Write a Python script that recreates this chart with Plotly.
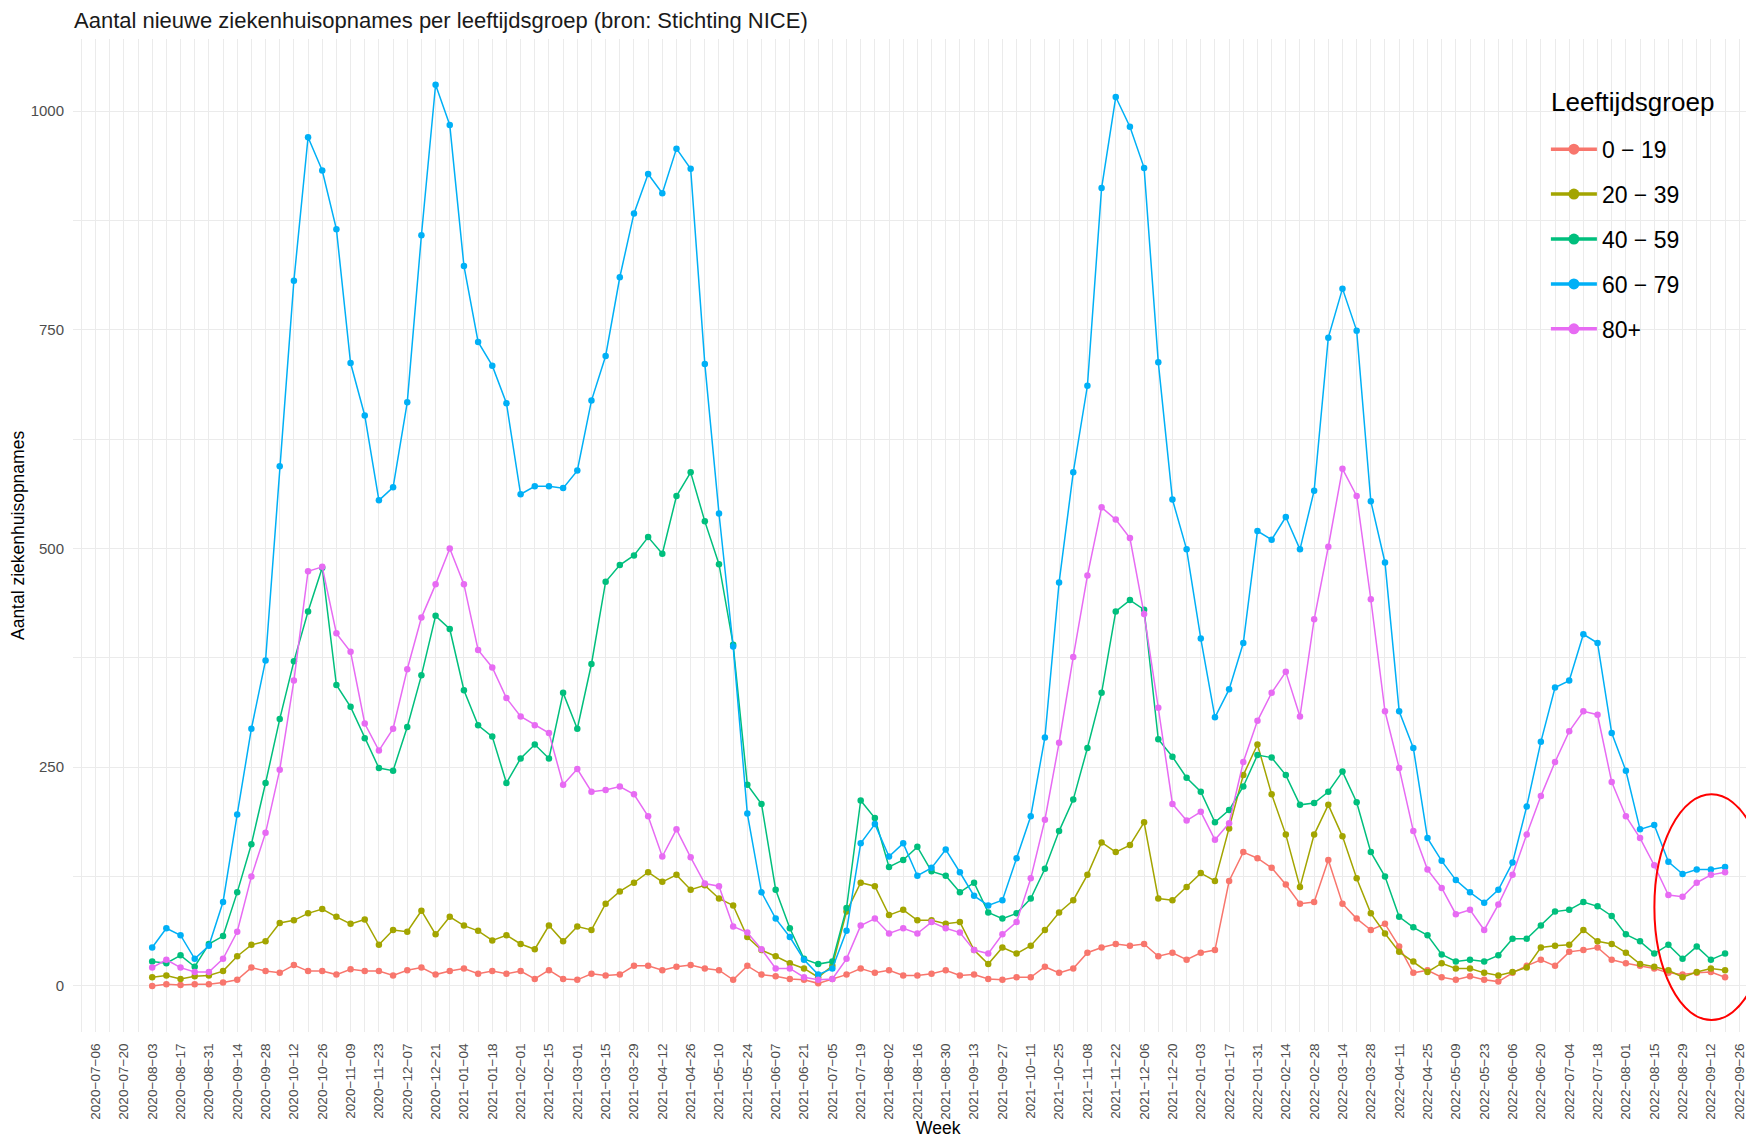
import pandas as pd
import plotly.graph_objects as go

# weekly data, first week 2020-08-03, last week 2022-09-19
weeks = pd.date_range("2020-08-03", periods=112, freq="7D")

groups = ["0 − 19", "20 − 39", "40 − 59", "60 − 79", "80+"]
colors = ["#F8766D", "#A3A500", "#00BF7D", "#00B0F6", "#E76BF3"]

age_0_19 = [
    0, 2, 1, 2, 2, 4, 7, 21, 17, 15, 24, 17, 17, 13, 19, 17, 17, 12, 18, 21, 13, 17, 20, 14, 17, 14, 17, 8, 18,
    8, 7, 14, 12, 13, 23, 23, 18, 22, 24, 20, 18, 7, 23, 13, 11, 8,
    7, 3, 8, 13, 20, 15, 18, 12, 12, 14, 18, 12, 13, 8, 7, 10, 10, 22, 15, 20, 38, 44,
    48, 46, 48, 34, 38, 30, 38, 41, 120, 153, 146, 135, 116, 94, 96, 144, 94, 77, 64, 71, 45, 15,
    18, 10, 7, 11, 7, 5, 15, 23, 30, 23, 39, 41, 44, 30, 26, 23, 20, 15, 13, 15, 16, 10,
]
age_20_39 = [
    10, 12, 8, 11, 12, 17, 34, 47, 51, 72, 75, 83, 88, 79, 71, 76, 47, 64, 62, 86, 59, 79, 69, 63, 52, 58, 48, 42, 69,
    51, 68, 64, 94, 108, 118, 130, 119, 127, 110, 115, 100, 92, 56, 41, 34, 26,
    20, 10, 23, 85, 118, 114, 81, 87, 75, 75, 71, 73, 41, 25, 44, 37, 46, 64, 84, 98, 127, 164,
    153, 161, 187, 100, 98, 113, 129, 120, 180, 241, 276, 219, 173, 113, 173, 207, 171, 123, 83, 60, 39, 28,
    16, 26, 20, 20, 15, 12, 16, 21, 44, 46, 47, 64, 51, 48, 38, 25, 22, 18, 10, 16, 20, 18,
]
age_40_59 = [
    28, 26, 35, 22, 48, 57, 107, 162, 232, 305, 371, 428, 478, 344, 319, 283, 249, 246, 296, 355, 423, 408, 338,
    298, 285, 232, 260, 276, 260, 335, 294, 368, 462, 481, 492, 513, 494, 560, 587, 531, 482, 390, 230, 208, 110, 66,
    31, 25, 28, 89, 212, 192, 136, 144, 159, 131, 126, 107, 118, 84, 77, 83, 100, 134, 177, 213, 272, 335,
    428, 441, 430, 282, 262, 238, 222, 187, 201, 228, 264, 261, 241, 207, 209, 222, 245, 210, 153, 125, 79, 67,
    58, 36, 28, 30, 28, 35, 54, 54, 69, 85, 87, 96, 91, 80, 59, 51, 37, 47, 31, 45, 30, 37,
]
age_60_79 = [
    44, 66, 58, 31, 46, 96, 196, 294, 372, 594, 806, 970, 932, 865, 712, 652, 555, 570, 667, 858, 1030, 984, 823,
    736, 709, 666, 562, 571, 571, 569, 589, 669, 720, 810, 883, 928, 906, 957, 934, 711, 540, 388, 197, 107, 77, 56,
    30, 13, 20, 63, 163, 185, 148, 163, 126, 135, 156, 130, 103, 92, 98, 146, 194, 284, 461, 587, 686, 912,
    1016, 982, 935, 713, 556, 499, 397, 307, 339, 392, 520, 510, 536, 499, 566, 741, 797, 749, 554, 484, 314, 272,
    169, 143, 121, 107, 95, 110, 141, 205, 279, 341, 349, 402, 392, 289, 246, 179, 184, 142, 128, 133, 133, 136,
]
age_80_plus = [
    21, 30, 21, 16, 16, 31, 62, 125, 175, 247, 349, 474, 479, 403, 382, 300, 269, 294, 362, 421, 459, 500, 459,
    384, 364, 329, 308, 298, 289, 230, 248, 222, 224, 228, 219, 194, 148, 179, 147, 117, 114, 68, 61, 42, 20, 20,
    10, 7, 8, 31, 69, 77, 60, 66, 60, 73, 66, 61, 41, 37, 59, 73, 123, 190, 278, 376, 469, 547,
    533, 512, 425, 318, 208, 189, 199, 167, 186, 256, 303, 335, 359, 308, 419, 502, 591, 560, 442, 314, 249, 177,
    133, 112, 82, 87, 64, 93, 127, 173, 217, 256, 291, 314, 310, 233, 194, 169, 138, 104, 102, 118, 127, 130,
]
series = [age_0_19, age_20_39, age_40_59, age_60_79, age_80_plus]

FONT = "Liberation Sans, Arial, sans-serif"
GRID = "#EBEBEB"
WEEK_MS = 7 * 24 * 3600 * 1000

fig = go.Figure()
for name, col, vals in zip(groups, colors, series):
    fig.add_trace(go.Scatter(
        x=weeks, y=vals, name=name, showlegend=False,
        mode="lines+markers",
        line=dict(color=col, width=1.5),
        marker=dict(color=col, size=6.5),
    ))
# legend keys (thicker, like the ggplot legend)
for name, col in zip(groups, colors):
    fig.add_trace(go.Scatter(
        x=[None], y=[None], name=name, legendgroup=name,
        mode="lines+markers",
        line=dict(color=col, width=3.5),
        marker=dict(color=col, size=11),
    ))

# white legend box (over the grid)
fig.add_shape(type="rect", xref="paper", yref="paper",
              x0=0.8745, x1=0.9863, y0=0.6737, y1=0.9537,
              fillcolor="white", line=dict(width=0), layer="between")

# red ellipse around the last weeks
fig.add_shape(type="circle", xref="x", yref="y",
              x0="2022-08-15 02:00", x1="2022-10-10 12:00", y0=-39, y1=219,
              line=dict(color="red", width=2))

fig.add_annotation(text="Leeftijdsgroep", xref="paper", yref="paper",
                   x=0.8778, y=0.9366, xanchor="left", yanchor="middle",
                   showarrow=False, font=dict(size=26, color="#000000"))
fig.add_annotation(text="Week", xref="paper", yref="paper",
                   x=0.5146, y=-0.0962, xanchor="center", yanchor="middle",
                   showarrow=False, font=dict(size=17.5, color="#000000"))
fig.add_annotation(text="Aantal ziekenhuisopnames", xref="paper", yref="paper",
                   x=-0.0327, y=0.4995, xanchor="center", yanchor="middle", textangle=-90,
                   showarrow=False, font=dict(size=17.5, color="#000000"))

fig.update_layout(
    width=1746, height=1130,
    margin=dict(l=65, r=0, t=31, b=106, autoexpand=False),
    paper_bgcolor="white", plot_bgcolor="white",
    font=dict(family=FONT, color="#000000"),
    title=dict(text="Aantal nieuwe ziekenhuisopnames per leeftijdsgroep (bron: Stichting NICE)",
               x=66 / 1746, xanchor="left", xref="container",
               y=1 - 12 / 1130, yanchor="middle", yref="container",
               font=dict(size=22, color="#1A1A1A")),
    legend=dict(
        font=dict(size=23, color="#000000"),
        x=0.8762, y=0.9106, xanchor="left", yanchor="top",
        bgcolor="rgba(0,0,0,0)", tracegroupgap=12, itemwidth=46,
    ),
    showlegend=True,
)

fig.update_xaxes(
    type="date", automargin=False,
    range=["2020-06-24 21:07", "2022-10-03 07:00"],
    tick0="2020-07-06", dtick=2 * WEEK_MS, tickformat="%Y−%m−%d",
    tickangle=-90, tickfont=dict(size=13.6, color="#4D4D4D"),
    ticks="outside", ticklen=5, tickcolor="rgba(0,0,0,0)",
    showgrid=True, gridcolor=GRID, gridwidth=1.2,
    minor=dict(dtick=WEEK_MS, tick0="2020-07-06", showgrid=True, gridcolor=GRID, gridwidth=1),
    showline=False, zeroline=False,
)
fig.update_yaxes(
    automargin=False,
    range=[-52.6, 1082.3], tick0=0, dtick=250,
    tickfont=dict(size=15, color="#4D4D4D"),
    ticks="outside", ticklen=5, tickcolor="rgba(0,0,0,0)",
    showgrid=True, gridcolor=GRID, gridwidth=1.2,
    minor=dict(dtick=125, showgrid=True, gridcolor=GRID, gridwidth=1),
    showline=False, zeroline=False,
)

fig.write_html("out.html")
